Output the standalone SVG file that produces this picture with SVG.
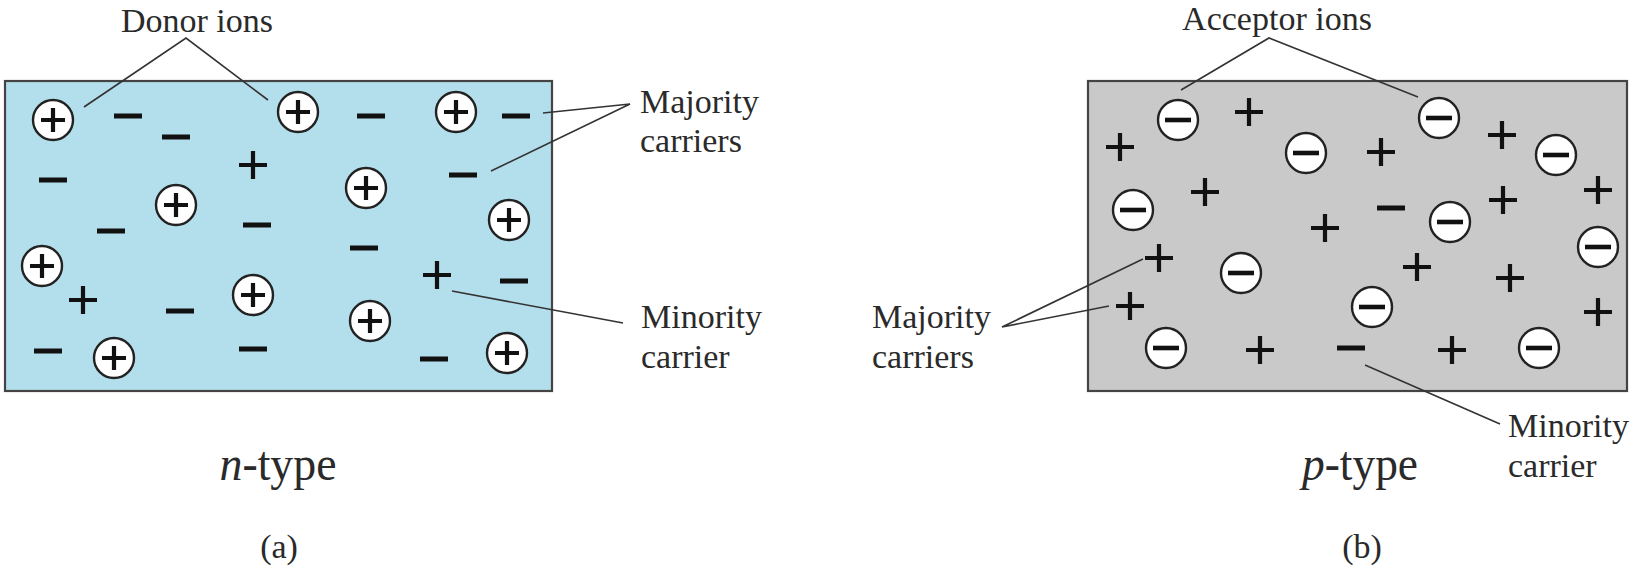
<svg xmlns="http://www.w3.org/2000/svg" xmlns:xlink="http://www.w3.org/1999/xlink" width="1637" height="572" viewBox="0 0 1637 572">
<style>
.lbl{font-family:"Liberation Serif","Times New Roman",serif;font-size:34px;fill:#2a2a2a}
.cap{font-family:"Liberation Serif","Times New Roman",serif;font-size:48px;fill:#2a2a2a}
.sub{font-family:"Liberation Serif","Times New Roman",serif;font-size:34px;fill:#2a2a2a}
.lead{stroke:#333;stroke-width:1.6;fill:none}
.box{stroke:#444;stroke-width:2.2}
</style>
<defs>
<g id="ionp"><circle r="20" fill="#fff" stroke="#222" stroke-width="2.4"/><path d="M-12 0H12M0 -12V12" stroke="#111" stroke-width="4.2"/></g>
<g id="ionm"><circle r="20" fill="#fff" stroke="#222" stroke-width="2.4"/><path d="M-13 0H13" stroke="#111" stroke-width="4.6"/></g>
<path id="pl" d="M-14 0H14M0 -14V14" stroke="#111" stroke-width="4.2"/>
<path id="mi" d="M-14 0H14" stroke="#111" stroke-width="5"/>
</defs>

<g id="panel-a">
<rect class="box" x="5" y="81" width="547" height="310" fill="#b3dfec"/>
<g id="donor-ions">
<use href="#ionp" x="53" y="120"/><use href="#ionp" x="298" y="112"/><use href="#ionp" x="456" y="112"/>
<use href="#ionp" x="176" y="205"/><use href="#ionp" x="366" y="188"/><use href="#ionp" x="509" y="220"/>
<use href="#ionp" x="42" y="266"/><use href="#ionp" x="253" y="295"/><use href="#ionp" x="370" y="321"/>
<use href="#ionp" x="114" y="358"/><use href="#ionp" x="507" y="353"/>
</g>
<g id="electrons-a">
<use href="#mi" x="128" y="116"/><use href="#mi" x="176" y="137"/><use href="#mi" x="53" y="180"/>
<use href="#mi" x="111" y="231"/><use href="#mi" x="257" y="225"/><use href="#mi" x="371" y="116"/>
<use href="#mi" x="516" y="116"/><use href="#mi" x="463" y="175"/><use href="#mi" x="364" y="248"/>
<use href="#mi" x="514" y="281"/><use href="#mi" x="180" y="311"/><use href="#mi" x="253" y="349"/>
<use href="#mi" x="48" y="351"/><use href="#mi" x="434" y="359"/>
</g>
<g id="holes-a">
<use href="#pl" x="253" y="165"/><use href="#pl" x="83" y="300"/><use href="#pl" x="437" y="275"/>
</g>
</g>

<g id="panel-b">
<rect class="box" x="1088" y="81" width="539" height="310" fill="#c9c9c9"/>
<g id="acceptor-ions">
<use href="#ionm" x="1178" y="120"/><use href="#ionm" x="1306" y="153"/><use href="#ionm" x="1133" y="210"/>
<use href="#ionm" x="1241" y="273"/><use href="#ionm" x="1372" y="307"/><use href="#ionm" x="1166" y="348"/>
<use href="#ionm" x="1439" y="118"/><use href="#ionm" x="1556" y="155"/><use href="#ionm" x="1450" y="222"/>
<use href="#ionm" x="1598" y="247"/><use href="#ionm" x="1539" y="348"/>
</g>
<g id="holes-b">
<use href="#pl" x="1120" y="147"/><use href="#pl" x="1249" y="112"/><use href="#pl" x="1381" y="152"/>
<use href="#pl" x="1205" y="192"/><use href="#pl" x="1325" y="228"/><use href="#pl" x="1159" y="258"/>
<use href="#pl" x="1130" y="306"/><use href="#pl" x="1260" y="350"/><use href="#pl" x="1417" y="267"/>
<use href="#pl" x="1502" y="135"/><use href="#pl" x="1503" y="200"/><use href="#pl" x="1598" y="190"/>
<use href="#pl" x="1510" y="278"/><use href="#pl" x="1598" y="312"/><use href="#pl" x="1452" y="350"/>
</g>
<g id="electrons-b">
<use href="#mi" x="1391" y="208"/><use href="#mi" x="1351" y="348"/>
</g>
</g>

<g id="connectors">
<path class="lead" d="M84 107L186 38L268 100"/>
<path class="lead" d="M543 113L630 104L491 171"/>
<path class="lead" d="M452 291L623 323"/>
<path class="lead" d="M1181 90L1269 38L1418 97"/>
<path class="lead" d="M1143 259L1002 327L1109 306"/>
<path class="lead" d="M1365 365L1500 424"/>
</g>

<g id="label-donor"><text class="lbl" x="197" y="32" text-anchor="middle">Donor ions</text></g>
<g id="label-majority-a"><text class="lbl" x="640" y="113">Majority</text><text class="lbl" x="640" y="152">carriers</text></g>
<g id="label-minority-a"><text class="lbl" x="641" y="328">Minority</text><text class="lbl" x="641" y="368">carrier</text></g>
<g id="label-acceptor"><text class="lbl" x="1277" y="30" text-anchor="middle">Acceptor ions</text></g>
<g id="label-majority-b"><text class="lbl" x="872" y="328">Majority</text><text class="lbl" x="872" y="368">carriers</text></g>
<g id="label-minority-b"><text class="lbl" x="1508" y="437">Minority</text><text class="lbl" x="1508" y="477">carrier</text></g>
<g id="caption-a"><text class="cap" x="278" y="480" text-anchor="middle" textLength="117" lengthAdjust="spacingAndGlyphs"><tspan font-style="italic">n</tspan>-type</text>
<text class="sub" x="279" y="558" text-anchor="middle">(a)</text></g>
<g id="caption-b"><text class="cap" x="1360" y="480" text-anchor="middle" textLength="116" lengthAdjust="spacingAndGlyphs"><tspan font-style="italic">p</tspan>-type</text>
<text class="sub" x="1362" y="558" text-anchor="middle">(b)</text></g>
</svg>
